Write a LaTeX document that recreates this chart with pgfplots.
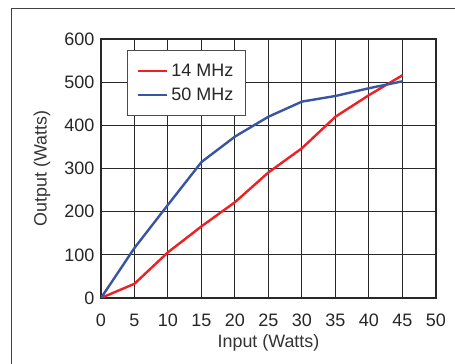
\documentclass[border=0pt]{standalone}
\usepackage{pgfplots}
\pgfplotsset{compat=1.18}
\usepackage{fontspec}
\setmainfont{Liberation Sans}
\definecolor{cred}{RGB}{237,32,36}
\definecolor{cblue}{RGB}{58,84,164}
\definecolor{gridc}{RGB}{40,40,40}
\begin{document}
\begin{tikzpicture}[x=0.75pt,y=0.75pt]
\begin{axis}[
  at={(0,0)}, anchor=south west,
  scale only axis,
  width=251.25pt, height=194.25pt,
  xmin=0, xmax=50, ymin=0, ymax=600,
  xtick={0,5,...,50}, ytick={0,100,...,600},
  major tick length=0pt,
  grid=major,
  grid style={gridc, line width=0.75pt},
  axis line style={gridc, line width=0.9pt},
  tick label style={font=\fontsize{13.5}{15}\selectfont, text=black!85},
  /pgf/number format/assume math mode=true,
  xticklabel style={anchor=base, yshift=-21.75pt},
  yticklabel style={xshift=-1.5pt},
  xlabel={Input (Watts)},
  ylabel={Output (Watts)},
  label style={font=\fontsize{13.4}{15}\selectfont, text=black!80},
  xlabel style={at={(axis description cs:0.5,-0.19)}, anchor=base},
  ylabel style={at={(axis description cs:-0.176,0.5)}, anchor=center},
  legend style={at={(0.078,0.957)}, anchor=north west, draw=black!70, line width=0.75pt,
    font=\fontsize{13.5}{15}\selectfont, text=black!85, inner xsep=7pt, inner ysep=8pt,
    row sep=3pt, fill=white},
  legend cell align=left,
  legend image code/.code={\draw[#1, line width=1.8pt] (0pt,0pt) -- (22pt,0pt);},
]
\addplot[cred, line width=1.8pt] coordinates {
(0,0) (5,33) (10,106) (15,166) (20,222) (25,291) (30,347) (35,420) (40,470) (45,516)};
\addlegendentry{14 MHz}
\addplot[cblue, line width=1.8pt] coordinates {
(0,0) (5,116) (10,216) (15,315) (20,374) (25,420) (30,455) (35,468) (40,486) (45,502)};
\addlegendentry{50 MHz}
\end{axis}
\draw[black!75, line width=0.9pt] (-89.5,-80) -- (-89.5,289.5) -- (380,289.5);
\pgfresetboundingbox
\useasboundingbox (-101,-66) rectangle (354,298);
\end{tikzpicture}
\end{document}
